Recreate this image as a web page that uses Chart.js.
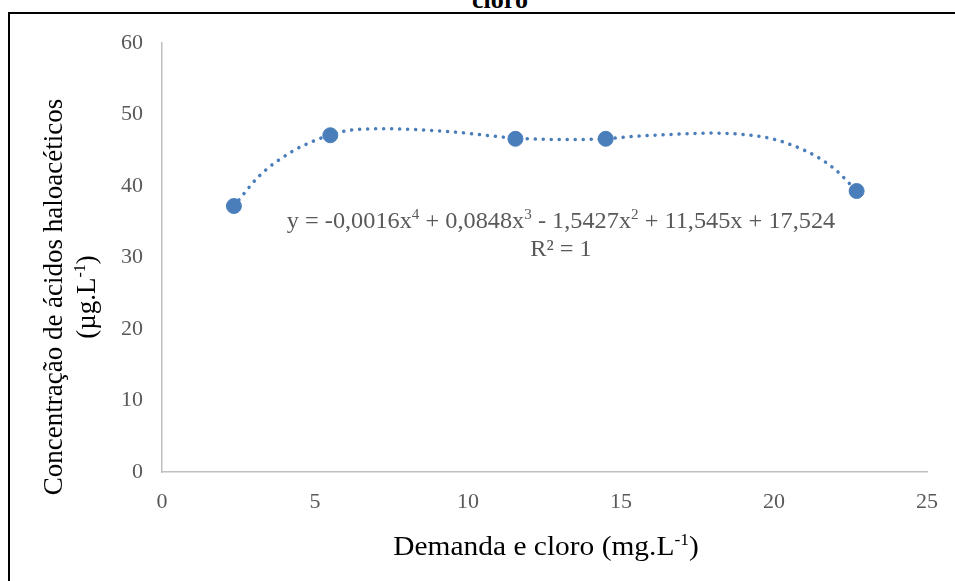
<!DOCTYPE html>
<html>
<head>
<meta charset="utf-8">
<script src="https://cdn.jsdelivr.net/npm/chart.js@4/dist/chart.umd.min.js"></script>
<style>
  html, body { margin: 0; padding: 0; background: #fff; overflow: hidden; }
  #wrap { position: relative; width: 955px; height: 581px; overflow: hidden; }
  #frame { position: absolute; left: 8px; top: 12px; width: 1000px; height: 700px; border: 2px solid #000; }
  #title { position: absolute; left: 0; top: -12px; width: 1000px; text-align: center;
           font: bold 26px/24px "Liberation Serif", serif; color: #000; }
  canvas { position: absolute; left: 0; top: 0; }
</style>
</head>
<body>
<div id="wrap">
  <div id="frame"></div>
  <div id="title">cloro</div>
  <canvas id="myChart" width="955" height="581"></canvas>
</div>
<script>
// pontos medidos
const demandaCloro = [2.35, 5.5, 11.55, 14.5, 22.7];
const acidosHaloaceticos = [37.2, 47.1, 46.6, 46.6, 39.3];

// linha de tendência
const trendX = [2.35, 3.2, 4.24, 4.96, 5.48, 6.14, 7.3, 9.4, 11.55, 13.0, 14.5, 15.3, 16.6, 18.0, 19.0, 19.84, 20.6, 21.4, 22.03, 22.7];
const trendY = [37.2, 41.5, 44.8, 46.3, 47.1, 47.8, 48.0, 47.6, 46.7, 46.5, 46.6, 46.9, 47.2, 47.4, 47.2, 46.7, 45.7, 44.1, 42.2, 39.3];

const xTicks = [0, 5, 10, 15, 20, 25];
const yTicks = [0, 10, 20, 30, 40, 50, 60];

const serif = "'Liberation Serif', 'Times New Roman', serif";
const blue = "#4A7EBB";

// desenha texto com partes sobrescritas, centrado em x
const drawRich = (ctx, parts, x, y, size, color, hScale = 1) => {
  const supSize = Math.round(size * 0.6);
  let total = 0;
  parts.forEach((p) => {
    ctx.font = (p.sup ? supSize : size) + "px " + serif;
    p.w = ctx.measureText(p.t).width;
    total += p.w;
  });
  ctx.save();
  ctx.translate(x, y);
  ctx.scale(hScale, 1);
  let cx = -total / 2;
  ctx.fillStyle = color;
  ctx.textAlign = "left";
  ctx.textBaseline = "alphabetic";
  parts.forEach((p) => {
    ctx.font = (p.sup ? supSize : size) + "px " + serif;
    ctx.fillText(p.t, cx, p.sup ? -size * 0.38 : 0);
    cx += p.w;
  });
  ctx.restore();
};

const textPlugin = {
  id: "textos",
  afterDraw(chart) {
    const ctx = chart.ctx;
    ctx.save();
    drawRich(ctx, [{ t: "Demanda e cloro (mg.L" }, { t: "-1", sup: true }, { t: ")" }], 546, 555, 27, "#000", 1.09);
    drawRich(ctx, [
      { t: "y = -0,0016x" }, { t: "4", sup: true },
      { t: " + 0,0848x" }, { t: "3", sup: true },
      { t: " - 1,5427x" }, { t: "2", sup: true },
      { t: " + 11,545x + 17,524" }
    ], 561, 228, 22.5, "#595959", 1.08);
    drawRich(ctx, [{ t: "R² = 1" }], 561, 256, 22.5, "#595959", 1.08);

    ctx.translate(0, 297);
    ctx.rotate(-Math.PI / 2);
    drawRich(ctx, [{ t: "Concentração de ácidos haloacéticos" }], 0, 62, 27, "#000");
    drawRich(ctx, [{ t: "(µg.L" }, { t: "-1", sup: true }, { t: ")" }], 0, 95, 27, "#000");
    ctx.restore();
  },
};

const ctx = document.getElementById("myChart").getContext("2d");
new Chart(ctx, {
  type: "scatter",
  data: {
    datasets: [
      {
        label: "Tendência",
        type: "line",
        data: trendX.map((x, i) => ({ x: x, y: trendY[i] })),
        borderColor: blue,
        borderWidth: 3.5,
        borderDash: [0.1, 7.9],
        borderCapStyle: "round",
        pointRadius: 0,
        fill: false,
        cubicInterpolationMode: "monotone",
      },
      {
        label: "Dados",
        data: demandaCloro.map((x, i) => ({ x: x, y: acidosHaloaceticos[i] })),
        backgroundColor: blue,
        borderColor: blue,
        pointRadius: 7.5,
        pointHoverRadius: 7.5,
      },
    ],
  },
  options: {
    responsive: false,
    animation: false,
    devicePixelRatio: 1,
    layout: { padding: { left: 0, top: 43, right: 27, bottom: 0 } },
    plugins: {
      legend: { display: false },
      tooltip: { enabled: false },
      title: { display: false },
    },
    scales: {
      x: {
        type: "linear",
        min: 0,
        max: 25,
        afterBuildTicks: (scale) => {
          scale.ticks = xTicks.map((v) => ({ value: v }));
        },
        afterFit: (scale) => {
          scale.height = 109;
        },
        grid: { display: false, drawTicks: false },
        border: { display: true, color: "#BFBFBF", width: 1.5 },
        ticks: { color: "#595959", font: { family: serif, size: 22 }, padding: 17 },
      },
      y: {
        type: "linear",
        min: 0,
        max: 60,
        afterBuildTicks: (scale) => {
          scale.ticks = yTicks.map((v) => ({ value: v }));
        },
        afterFit: (scale) => {
          scale.width = 162;
        },
        grid: { display: false, drawTicks: false },
        border: { display: true, color: "#BFBFBF", width: 1.5 },
        ticks: { color: "#595959", font: { family: serif, size: 22 }, padding: 19 },
      },
    },
  },
  plugins: [textPlugin],
});
</script>
</body>
</html>
